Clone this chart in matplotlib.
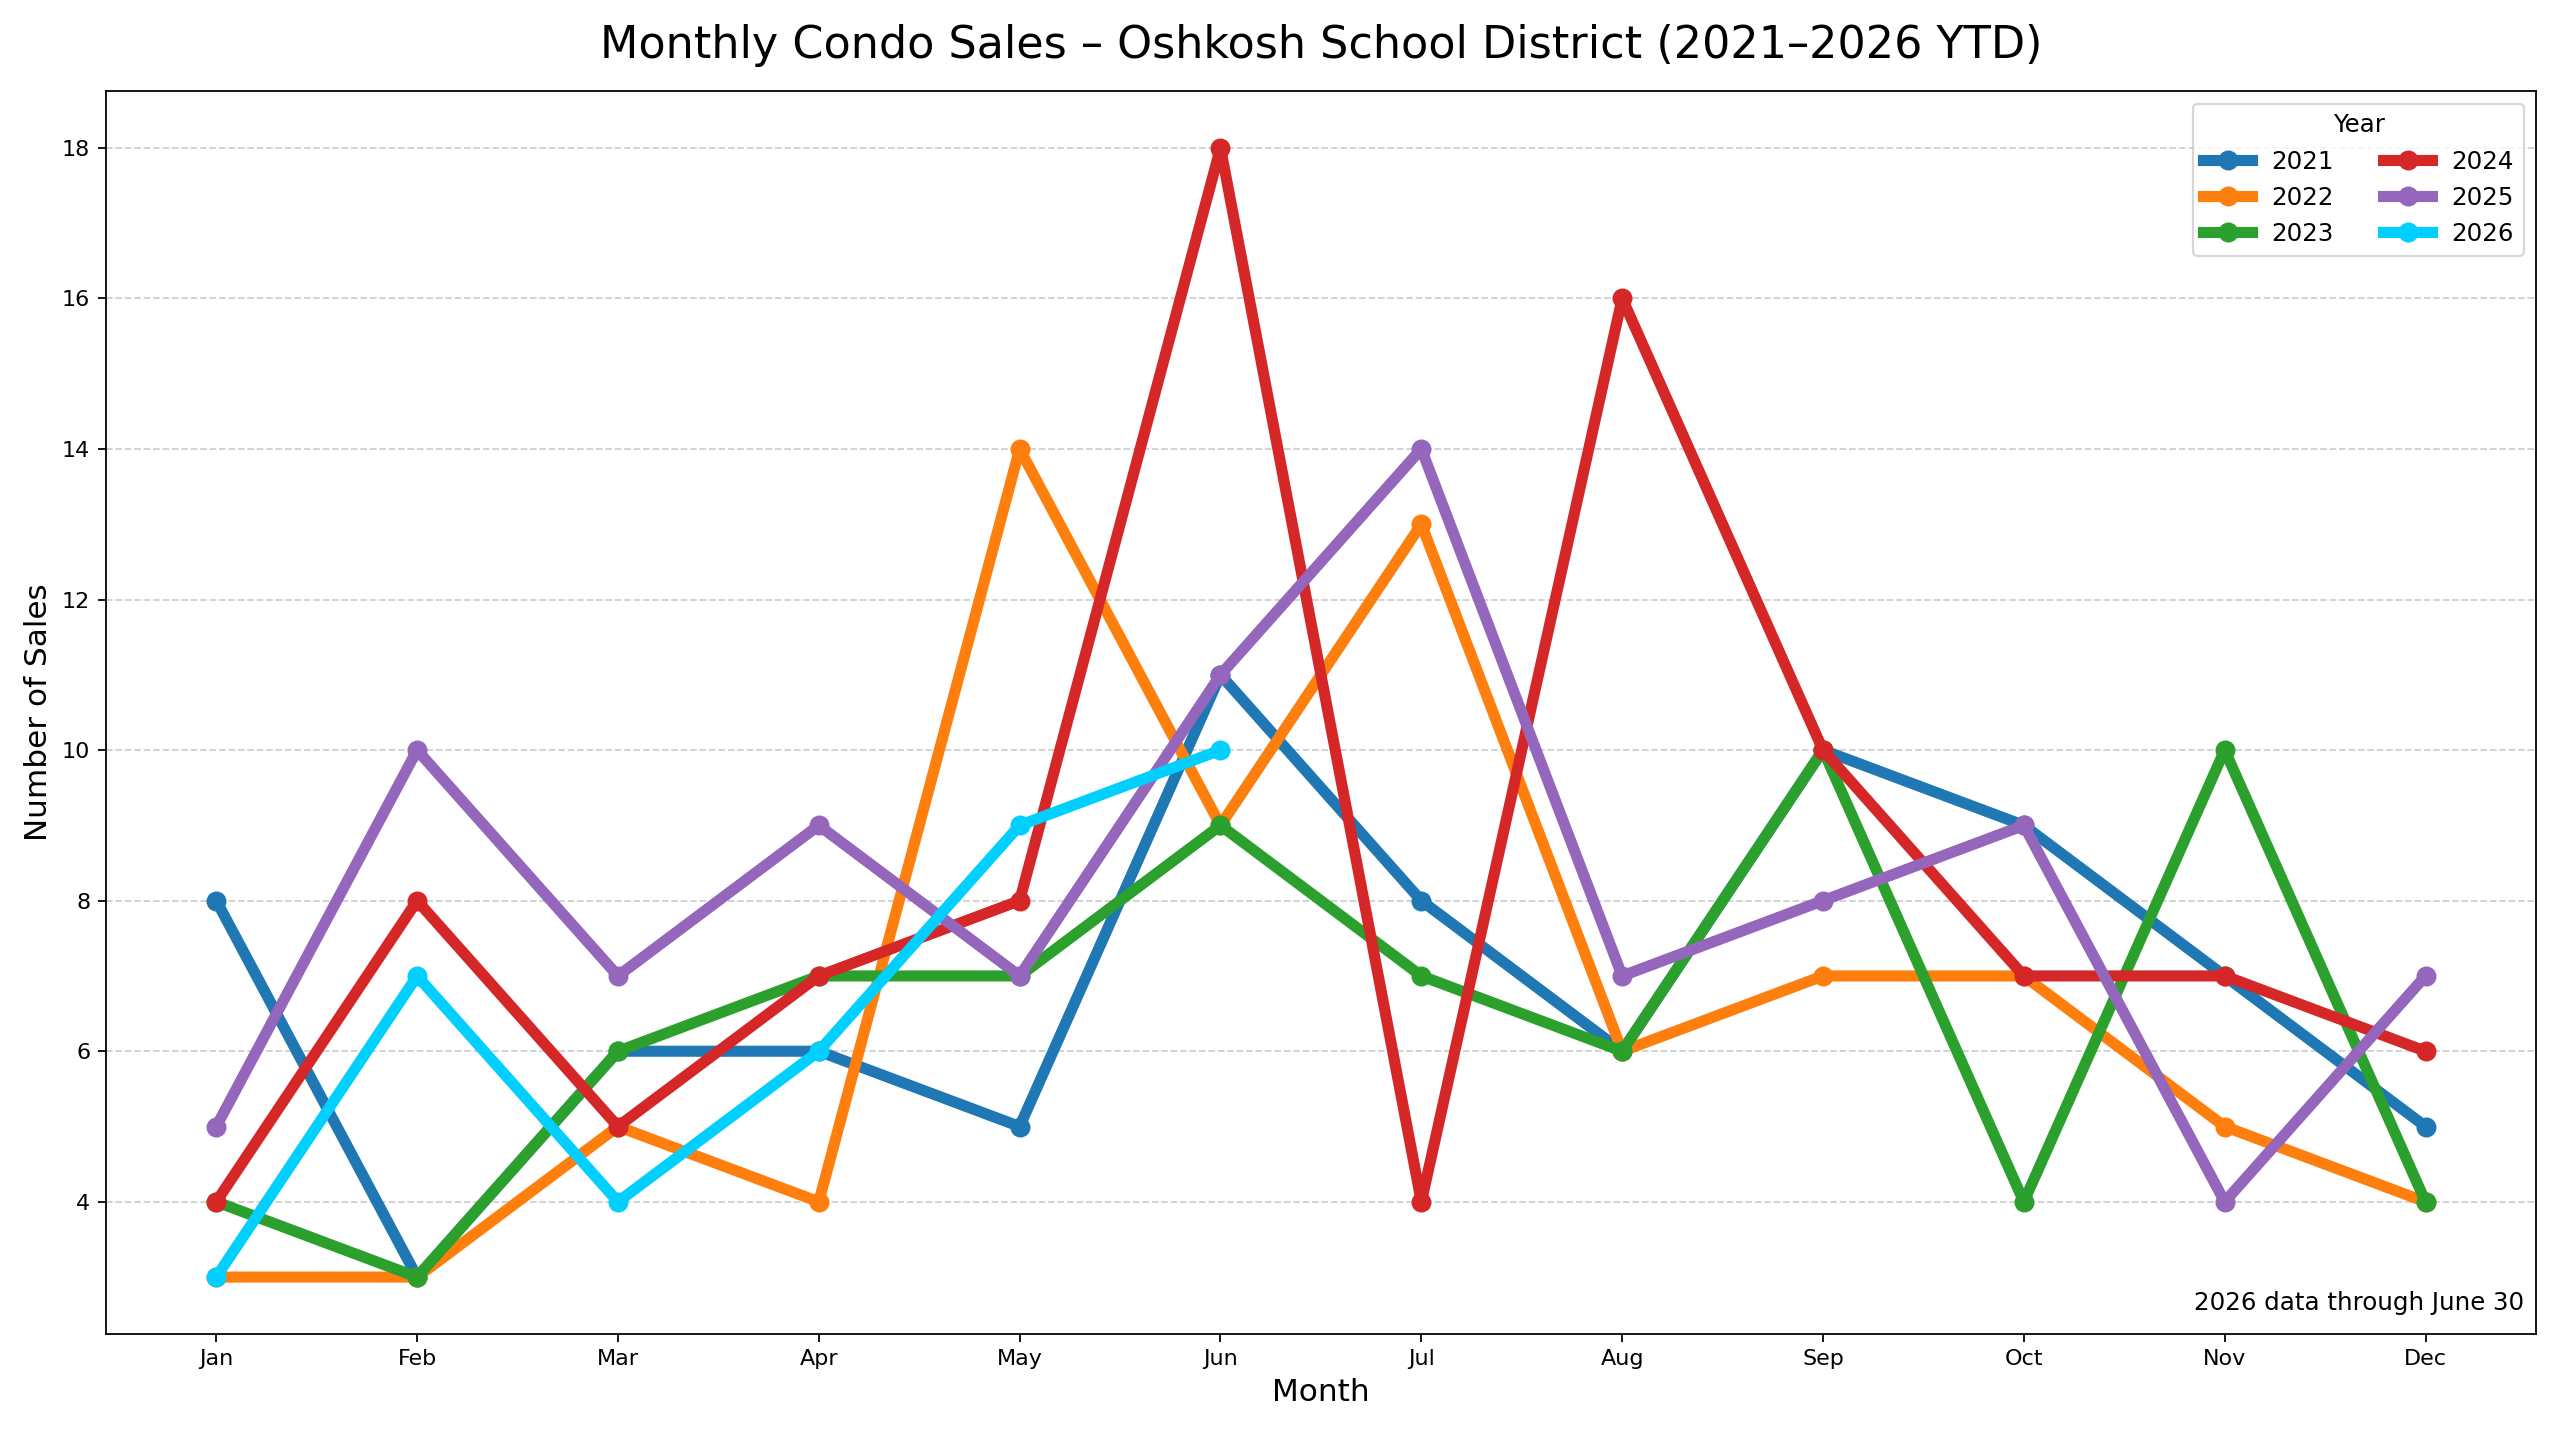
import matplotlib.pyplot as plt

months = ['Jan', 'Feb', 'Mar', 'Apr', 'May', 'Jun', 'Jul', 'Aug', 'Sep', 'Oct', 'Nov', 'Dec']
sales_2021 = [8, 3, 6, 6, 5, 11, 8, 6, 10, 9, 7, 5]
sales_2022 = [3, 3, 5, 4, 14, 9, 13, 6, 7, 7, 5, 4]
sales_2023 = [4, 3, 6, 7, 7, 9, 7, 6, 10, 4, 10, 4]
sales_2024 = [4, 8, 5, 7, 8, 18, 4, 16, 10, 7, 7, 6]
sales_2025 = [5, 10, 7, 9, 7, 11, 14, 7, 8, 9, 4, 7]
sales_2026 = [3, 7, 4, 6, 9, 10]

series = [
    ('2021', sales_2021, '#1f77b4'),
    ('2022', sales_2022, '#ff7f0e'),
    ('2023', sales_2023, '#2ca02c'),
    ('2024', sales_2024, '#d62728'),
    ('2025', sales_2025, '#9467bd'),
    ('2026', sales_2026, '#00cfff'),
]

fig, ax = plt.subplots(figsize=(16, 8.94375), dpi=160)
for label, vals, color in series:
    ax.plot(months[:len(vals)], vals, marker='o', linewidth=5, markersize=8,
            color=color, label=label)

ax.set_title('Monthly Condo Sales – Oshkosh School District (2021–2026 YTD)', fontsize=20, pad=15)
ax.set_xlabel('Month', fontsize=14)
ax.set_ylabel('Number of Sales', fontsize=14)
ax.set_yticks(range(4, 19, 2))
ax.grid(axis='y', linestyle='--', alpha=0.6)
ax.legend(title='Year', ncol=2, loc='upper right', fontsize=11, title_fontsize=11)
ax.text(0.995, 0.015, '2026 data through June 30', transform=ax.transAxes,
        ha='right', va='bottom', fontsize=11)
fig.tight_layout()
fig.savefig('out.png')
